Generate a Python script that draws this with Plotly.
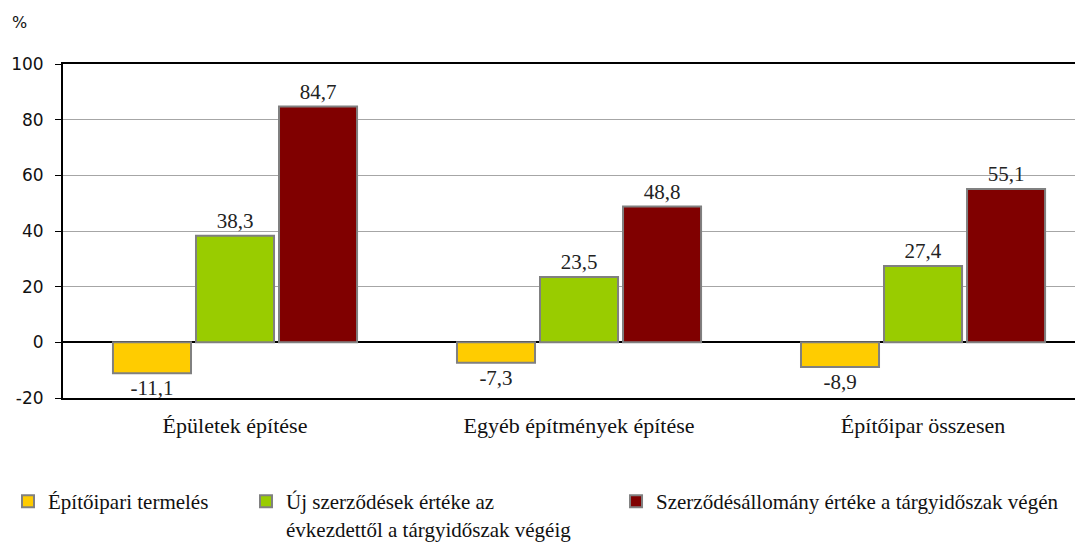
import plotly.graph_objects as go

categories = ["Épületek építése", "Egyéb építmények építése", "Építőipar összesen"]
series_names = [
    "Építőipari termelés",
    "Új szerződések értéke az<br>évkezdettől a tárgyidőszak végéig",
    "Szerződésállomány értéke a tárgyidőszak végén",
]
termeles = [-11.1, -7.3, -8.9]
uj_szerzodesek = [38.3, 23.5, 27.4]
szerzodesallomany = [84.7, 48.8, 55.1]
y_ticks = [-20, 0, 20, 40, 60, 80, 100]

colors = ["#FFCC00", "#99CC00", "#800000"]
serif = "Liberation Serif, Times New Roman, serif"
sans = "DejaVu Sans, Verdana, sans-serif"

legend_ids = ["legend", "legend2", "legend3"]
legend_x = [0.0, 0.2214, 0.5656]

fig = go.Figure()
for name, vals, col, lid in zip(series_names, [termeles, uj_szerzodesek, szerzodesallomany], colors, legend_ids):
    fig.add_trace(go.Bar(
        x=categories, y=vals, name=name, legend=lid,
        marker=dict(color=col, line=dict(color="#808080", width=2)),
        text=[f"{v:.1f}".replace(".", ",") for v in vals],
        textposition="outside", cliponaxis=False,
        textfont=dict(family=serif, size=21, color="#222222"),
        outsidetextfont=dict(family=serif, size=21, color="#222222"),
    ))

W, H = 1075, 534  # page body has an 8px offset
legend_common = dict(
    orientation="v", xref="container", yref="container",
    y=0.114, xanchor="left", yanchor="top",
    font=dict(family=serif, size=21, color="#111111"),
    valign="top", itemclick=False, bgcolor="rgba(0,0,0,0)",
)
legends = {lid: dict(legend_common, x=lx) for lid, lx in zip(legend_ids, legend_x)}

fig.update_layout(
    width=W, height=H,
    margin=dict(l=55, r=0, t=56, b=144, autoexpand=False),
    paper_bgcolor="white", plot_bgcolor="white",
    barmode="group", bargap=0.276, bargroupgap=0.06,
    showlegend=True,
    **legends,
    xaxis=dict(
        range=[-0.5, 2.465], showgrid=False,
        showline=True, mirror=True, linecolor="black", linewidth=2,
        ticks="", ticklabelstandoff=7,
        tickfont=dict(family=serif, size=22, color="#111111"),
    ),
    yaxis=dict(
        range=[-20, 100], tickvals=y_ticks, ticktext=[str(v) for v in y_ticks],
        showgrid=True, gridcolor="#A6A6A6", gridwidth=1,
        zeroline=True, zerolinecolor="black", zerolinewidth=1.5,
        showline=True, linecolor="black", linewidth=2,
        ticks="outside", ticklen=6, tickcolor="black",
        ticklabelstandoff=8,
        tickfont=dict(family=sans, size=17, color="#111111"),
    ),
    annotations=[dict(
        text="%", xref="paper", yref="paper", x=-0.052, y=1.09,
        xanchor="left", yanchor="bottom", showarrow=False,
        font=dict(family=sans, size=16, color="#111111"),
    )],
)

fig.write_html("out.html")
